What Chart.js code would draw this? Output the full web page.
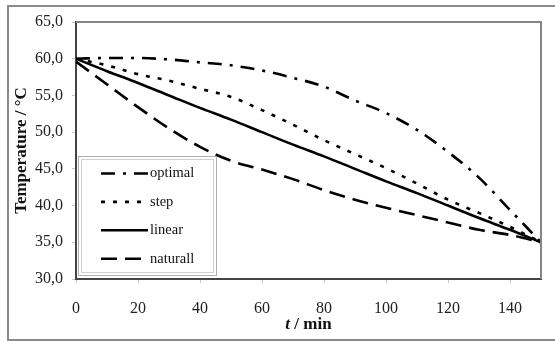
<!DOCTYPE html>
<html>
<head>
<meta charset="utf-8">
<script src="https://cdn.jsdelivr.net/npm/chart.js@4.4.0/dist/chart.umd.min.js"></script>
<style>
  html, body { margin: 0; padding: 0; background: #fff; }
  canvas { display: block; }
</style>
</head>
<body>
<canvas id="tempChart" width="555" height="342"></canvas>
<script>
// время, мин
const times = [0, 10, 20, 30, 40, 50, 60, 70, 80, 90, 100, 110, 120, 130, 140, 150];

// температура по режимам
const optimal = [60.0, 60.1, 60.1, 59.9, 59.5, 59.1, 58.4, 57.4, 56.2, 54.3, 52.6, 50.3, 47.3, 43.8, 39.4, 35.0];
const step = [60.0, 59.1, 57.9, 57.0, 55.9, 54.8, 53.0, 51.0, 48.9, 47.0, 45.1, 43.0, 40.8, 39.0, 37.1, 35.0];
const linear = [60.0, 58.3, 56.7, 55.0, 53.3, 51.7, 50.0, 48.3, 46.7, 45.0, 43.3, 41.7, 40.0, 38.3, 36.7, 35.0];
const naturall = [59.6, 56.5, 53.4, 50.5, 48.0, 46.1, 44.9, 43.6, 42.1, 40.8, 39.7, 38.7, 37.7, 36.7, 36.0, 35.0];

const seriesNames = ['optimal', 'step', 'linear', 'naturall'];
const xTicks = [0, 20, 40, 60, 80, 100, 120, 140];

const serif = "'Liberation Serif', 'DejaVu Serif', serif";

function points(vals) {
  return times.map((t, i) => ({ x: t, y: vals[i] }));
}

const dashes = [[14, 8, 3, 8], [4, 8], [], [16, 8]];

const datasets = [optimal, step, linear, naturall].map((vals, i) => ({
  label: seriesNames[i],
  data: points(vals),
  borderColor: '#000',
  borderWidth: 2.6,
  borderDash: dashes[i],
  pointRadius: 0,
  cubicInterpolationMode: 'monotone',
  fill: false
}));

// рамка вокруг всего рисунка и вокруг области графика
const framePlugin = {
  id: 'frames',
  beforeDraw(chart) {
    const c = chart.ctx;
    c.save();
    c.fillStyle = '#fff';
    c.fillRect(0, 0, chart.width, chart.height);
    c.strokeStyle = '#8a8a8a';
    c.lineWidth = 2;
    c.strokeRect(8, 6, chart.width, 334);
    c.restore();
  },
  afterDatasetsDraw(chart) {
    const a = chart.chartArea;
    const c = chart.ctx;
    c.save();
    c.strokeStyle = '#858585';
    c.lineWidth = 2;
    c.beginPath();
    c.moveTo(a.left, a.top);
    c.lineTo(a.right, a.top);
    c.lineTo(a.right, a.bottom);
    c.stroke();
    c.restore();
  }
};

// легенда внутри области графика
const legendPlugin = {
  id: 'boxLegend',
  afterDraw(chart) {
    const c = chart.ctx;
    c.save();
    c.fillStyle = '#fff';
    c.fillRect(79, 157, 138, 119);
    c.strokeStyle = '#b0b0b0';
    c.lineWidth = 1;
    c.strokeRect(78.5, 156.5, 138, 119);
    c.strokeStyle = '#d0d0d0';
    c.strokeRect(81.5, 159.5, 132, 113);
    chart.data.datasets.forEach((ds, i) => {
      const y = 173.5 + i * 28.4;
      c.strokeStyle = '#000';
      c.lineWidth = ds.borderWidth;
      c.setLineDash(ds.borderDash);
      c.beginPath();
      c.moveTo(101, y);
      c.lineTo(148, y);
      c.stroke();
      c.setLineDash([]);
      c.fillStyle = '#111';
      c.font = '14.5px ' + serif;
      c.textBaseline = 'middle';
      c.fillText(ds.label, 150, y);
    });
    c.restore();
  }
};

// подпись оси X: курсивная t
const xTitlePlugin = {
  id: 'xTitle',
  afterDraw(chart) {
    const a = chart.chartArea;
    const c = chart.ctx;
    c.save();
    c.fillStyle = '#111';
    c.textBaseline = 'middle';
    const f1 = 'italic bold 17px ' + serif;
    const f2 = 'bold 17px ' + serif;
    c.font = f1;
    const w1 = c.measureText('t').width;
    c.font = f2;
    const rest = ' / min';
    const w2 = c.measureText(rest).width;
    let x = (a.left + a.right) / 2 - (w1 + w2) / 2;
    const y = 325;
    c.font = f1;
    c.fillText('t', x, y);
    c.font = f2;
    c.fillText(rest, x + w1, y);
    c.restore();
  }
};

const ctx = document.getElementById('tempChart').getContext('2d');
new Chart(ctx, {
  type: 'line',
  data: { datasets: datasets },
  options: {
    responsive: false,
    animation: false,
    layout: { padding: { left: 0, top: 22, right: 14, bottom: 0 } },
    plugins: {
      legend: { display: false },
      tooltip: { enabled: false }
    },
    scales: {
      x: {
        type: 'linear',
        min: 0,
        max: 150,
        afterBuildTicks: (scale) => {
          scale.ticks = xTicks.map(v => ({ value: v }));
        },
        afterFit: (scale) => { scale.height = 63; },
        border: { display: true, color: '#444', width: 2 },
        grid: { drawOnChartArea: false, drawTicks: true, tickLength: 4, color: '#c8c8c8' },
        ticks: {
          padding: 16,
          color: '#222',
          font: { family: serif, size: 16 },
          maxRotation: 0
        }
      },
      y: {
        min: 30,
        max: 65,
        afterFit: (scale) => { scale.width = 76; },
        border: { display: true, color: '#444', width: 2 },
        grid: { drawOnChartArea: false, drawTicks: true, tickLength: 4, color: '#c8c8c8' },
        ticks: {
          stepSize: 5,
          padding: 9,
          color: '#222',
          font: { family: serif, size: 16 },
          callback: (v) => v.toFixed(1).replace('.', ',')
        },
        title: {
          display: true,
          text: 'Temperature / °C',
          color: '#111',
          font: { family: serif, size: 17, weight: 'bold' },
          padding: { top: 11, bottom: 0 }
        }
      }
    }
  },
  plugins: [framePlugin, legendPlugin, xTitlePlugin]
});
</script>
</body>
</html>
